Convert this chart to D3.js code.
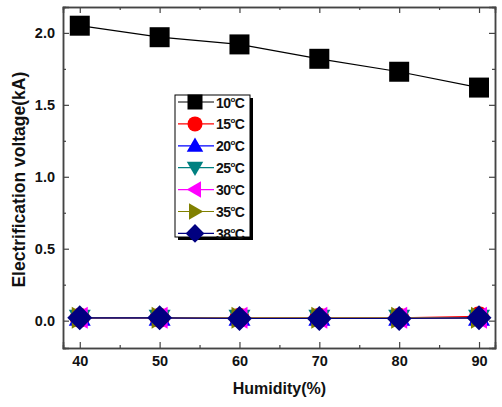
<!DOCTYPE html>
<html>
<head>
<meta charset="utf-8">
<script src="https://cdn.jsdelivr.net/npm/d3@7"></script>
<style>
  body { margin: 0; background: #fff; }
  text { font-family: "Liberation Sans", Arial, sans-serif; font-weight: bold; }
</style>
</head>
<body>
<div id="chart"></div>
<script>
// data
const humidity = [40, 50, 60, 70, 80, 90];
const temps = ["10", "15", "20", "25", "30", "35", "38"];
const v10 = [2.05, 1.97, 1.92, 1.82, 1.73, 1.62];
const v15 = [0.02, 0.02, 0.02, 0.02, 0.02, 0.03];
const v20 = [0.02, 0.02, 0.02, 0.02, 0.02, 0.02];
const v25 = [0.02, 0.02, 0.02, 0.02, 0.02, 0.02];
const v30 = [0.02, 0.02, 0.02, 0.02, 0.02, 0.02];
const v35 = [0.02, 0.02, 0.02, 0.02, 0.02, 0.02];
const v38 = [0.02, 0.02, 0.015, 0.015, 0.015, 0.02];
const xTicks = [40, 50, 60, 70, 80, 90];
const yTicks = [0.0, 0.5, 1.0, 1.5, 2.0];

const colors = ["#000000", "#ff0000", "#0000ff", "#008080", "#ff00ff", "#808000", "#000080"];
const symbols = ["square", "circle", "up", "down", "left", "right", "diamond"];
const values = [v10, v15, v20, v25, v30, v35, v38];

const W = 502, H = 407;
const margin = {top: 7, right: 7, bottom: 59, left: 63};
const width = W - margin.left - margin.right;
const height = H - margin.top - margin.bottom;

const svg = d3.select("#chart").append("svg")
    .attr("width", W).attr("height", H);
const g = svg.append("g")
    .attr("transform", `translate(${margin.left},${margin.top})`);

const x = d3.scaleLinear().domain([37.9, 92]).range([0, width]);
const y = d3.scaleLinear().domain([-0.19, 2.18]).range([height, 0]);

// marker path generator
function markerPath(type, s) {
  const h = s / 2;
  switch (type) {
    case "square": return `M${-h},${-h}H${h}V${h}H${-h}Z`;
    case "circle": return d3.symbol(d3.symbolCircle, Math.PI * h * h)();
    case "up": return `M0,${-h * 1.1}L${h * 1.1},${h * 0.8}L${-h * 1.1},${h * 0.8}Z`;
    case "down": return `M0,${h * 1.1}L${h * 1.1},${-h * 0.8}L${-h * 1.1},${-h * 0.8}Z`;
    case "left": return `M${-h * 1.1},0L${h * 0.8},${-h * 1.1}L${h * 0.8},${h * 1.1}Z`;
    case "right": return `M${h * 1.1},0L${-h * 0.8},${-h * 1.1}L${-h * 0.8},${h * 1.1}Z`;
    case "diamond": return `M0,${-h * 1.25}L${h * 1.25},0L0,${h * 1.25}L${-h * 1.25},0Z`;
  }
}

// axes (ticks inside)
const xAxis = d3.axisBottom(x).tickValues(xTicks).tickSize(-6).tickPadding(8).tickFormat(d3.format("d"));
const yAxis = d3.axisLeft(y).tickValues(yTicks).tickSize(-6).tickPadding(8).tickFormat(d3.format(".1f"));

g.append("g").attr("transform", `translate(0,${height})`).call(xAxis);
g.append("g").call(yAxis);
g.append("g").call(d3.axisTop(x).tickValues(xTicks).tickSize(-6).tickFormat(""));
g.append("g").attr("transform", `translate(${width},0)`)
    .call(d3.axisRight(y).tickValues(yTicks).tickSize(-6).tickFormat(""));

// minor ticks
const xMinor = [45, 55, 65, 75, 85];
const yMinor = [0.25, 0.75, 1.25, 1.75];
g.append("g").attr("transform", `translate(0,${height})`)
    .call(d3.axisBottom(x).tickValues(xMinor).tickSize(-3).tickFormat(""));
g.append("g").call(d3.axisTop(x).tickValues(xMinor).tickSize(-3).tickFormat(""));
g.append("g").call(d3.axisLeft(y).tickValues(yMinor).tickSize(-3).tickFormat(""));
g.append("g").attr("transform", `translate(${width},0)`)
    .call(d3.axisRight(y).tickValues(yMinor).tickSize(-3).tickFormat(""));

g.selectAll(".domain").attr("stroke", "#444").attr("stroke-width", 1.5);
g.selectAll(".tick line").attr("stroke", "#444").attr("stroke-width", 1.2);
g.selectAll(".tick text").attr("font-size", 14.5).attr("fill", "#111");

// series
const line = d3.line().x((d, i) => x(humidity[i])).y(d => y(d));
values.forEach((vals, k) => {
  g.append("path").datum(vals)
      .attr("fill", "none").attr("stroke", colors[k]).attr("stroke-width", 1.2)
      .attr("d", line);
});
values.forEach((vals, k) => {
  g.selectAll(null).data(vals).enter().append("path")
      .attr("transform", (d, i) => `translate(${x(humidity[i])},${y(d)})`)
      .attr("d", markerPath(symbols[k], 20))
      .attr("fill", colors[k]);
});

// axis titles
svg.append("text")
    .attr("x", margin.left + x(65)).attr("y", 394)
    .attr("text-anchor", "middle").attr("font-size", 16).attr("fill", "#111")
    .text("Humidity(%)");
svg.append("text")
    .attr("transform", `translate(25,${margin.top + y(0.98)}) rotate(-90)`)
    .attr("text-anchor", "middle").attr("font-size", 17.5).attr("fill", "#111")
    .text("Electrification voltage(kA)");

// legend
const lg = svg.append("g").attr("transform", "translate(175,95)");
const lw = 75, lh = 142;
lg.append("rect").attr("x", 3).attr("y", 3).attr("width", lw).attr("height", lh).attr("fill", "#000");
lg.append("rect").attr("width", lw).attr("height", lh).attr("fill", "#fff")
    .attr("stroke", "#000").attr("stroke-width", 1);
temps.forEach((t, k) => {
  const cy = 7 + k * 21.9;
  const row = lg.append("g").attr("transform", `translate(0,${cy})`);
  row.append("line").attr("x1", 3).attr("x2", 39).attr("y1", 0).attr("y2", 0)
      .attr("stroke", colors[k]).attr("stroke-width", 1.2);
  row.append("path").attr("transform", "translate(20,0)")
      .attr("d", markerPath(symbols[k], 15)).attr("fill", colors[k]);
  const tx = row.append("text").attr("x", 41).attr("y", 5.5).attr("font-size", 14)
      .attr("letter-spacing", -0.6).attr("fill", "#111");
  tx.append("tspan").text(t);
  tx.append("tspan").attr("font-size", 8).attr("dy", -6).text("o");
  tx.append("tspan").attr("dy", 6).text("C");
});
</script>
</body>
</html>
